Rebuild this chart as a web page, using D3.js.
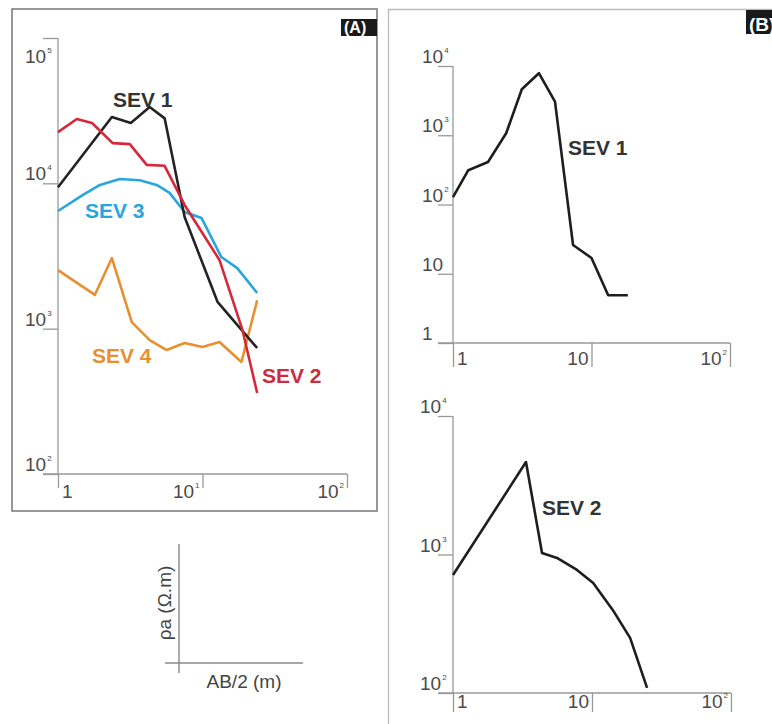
<!DOCTYPE html>
<html>
<head>
<meta charset="utf-8">
<script src="https://cdn.jsdelivr.net/npm/d3@7"></script>
<style>
  body { margin: 0; background: #fff; }
  svg { display: block; font-family: "Liberation Sans", Arial, sans-serif; }
</style>
</head>
<body>
<div id="chart"></div>
<script>
// ---- data (AB/2 in m, apparent resistivity in ohm.m) ----
const sev1A_ab = [1, 2.36, 3.19, 4.31, 5.47, 7.52, 12.7, 23.9];
const sev1A_rho = [9400, 28600, 26000, 33500, 28000, 5870, 1530, 736];

const sev2A_ab = [1, 1.35, 1.72, 2.39, 3.14, 4.11, 5.47, 7.52, 13.1, 18.9, 23.9];
const sev2A_rho = [22500, 27700, 26000, 18900, 18600, 13400, 13200, 7100, 2970, 980, 361];

const sev3A_ab = [1, 1.49, 1.95, 2.68, 3.68, 4.82, 5.92, 7.52, 9.84, 13.5, 17.4, 23.9];
const sev3A_rho = [6450, 8320, 9750, 10700, 10500, 9750, 8590, 6350, 5780, 3110, 2610, 1760];

const sev4A_ab = [1, 1.80, 2.36, 3.24, 4.31, 5.65, 7.52, 10, 13.1, 18.6, 23.9];
const sev4A_rho = [2530, 1710, 3060, 1110, 835, 713, 797, 748, 809, 590, 1570];

const sev1B_ab = [1, 1.29, 1.79, 2.42, 3.14, 4.17, 5.45, 7.36, 10, 13.2, 18.3];
const sev1B_rho = [128, 313, 410, 1070, 4610, 7870, 3050, 26, 16.9, 4.9, 4.9];

const sev2B_ab = [1, 3.35, 4.37, 5.6, 7.8, 10.2, 14.1, 18.8, 24.9];
const sev2B_rho = [711, 4650, 1025, 944, 773, 622, 398, 250, 109];

// tick values and their labels ("base^exp")
const ticksA_x = [1, 10, 100];
const labelsA_x = ["1", "10^1", "10^2"];
const ticksA_y = [100, 1000, 10000, 100000];
const labelsA_y = ["10^2", "10^3", "10^4", "10^5"];
const ticksB1_y = [1, 10, 100, 1000, 10000];
const labelsB1_y = ["1", "10", "10^2", "10^3", "10^4"];
const ticksB_x = [1, 10, 100];
const labelsB_x = ["1", "10", "10^2"];
const ticksB2_y = [100, 1000, 10000];
const labelsB2_y = ["10^2", "10^3", "10^4"];

const W = 772, H = 724;
const svg = d3.select("#chart").append("svg")
    .attr("width", W)
    .attr("height", H);

// panel frames
svg.append("rect")
    .attr("x", 12).attr("y", 9)
    .attr("width", 365).attr("height", 502)
    .style("fill", "none")
    .style("stroke", "#777")
    .style("stroke-width", 1.5);

svg.append("path")
    .attr("d", "M388.5," + H + "V9.5H" + W)
    .style("fill", "none")
    .style("stroke", "#bbb")
    .style("stroke-width", 1.3);

function tag(x, y, w, h, txt, fs) {
    svg.append("rect").attr("x", x).attr("y", y).attr("width", w).attr("height", h)
        .style("fill", "#1a1a1a");
    svg.append("text").attr("x", x + 3).attr("y", y + h - 3)
        .text(txt)
        .style("fill", "#fff").style("font-weight", "bold").style("font-size", fs + "px");
}
tag(341, 19, 36, 17, "(A)", 16);
tag(746, 10, 40, 24, "(B)", 19);

function tickText(sel, lab) {
    const parts = lab.split("^");
    sel.append("tspan").text(parts[0]);
    if (parts[1]) {
        sel.append("tspan").text(parts[1])
            .attr("dx", 1).attr("dy", -10).style("font-size", "8px");
    }
}

function panel(opts) {
    const x = d3.scaleLog().domain([1, 100]).range(opts.xr);
    const y = d3.scaleLog().domain(opts.yd).range(opts.yr);
    const g = svg.append("g");
    const x0 = opts.xr[0], yb = opts.yr[0];

    // axes (tick lines from d3 axes, own extended baselines)
    g.append("g").attr("transform", "translate(" + x0 + ",0)")
        .call(d3.axisLeft(y).tickValues(opts.yt).tickSize(15).tickFormat(""))
        .call(a => a.select(".domain").remove())
        .call(a => a.selectAll("line").style("stroke", "#999").style("stroke-width", 1.3));
    g.append("g").attr("transform", "translate(0," + yb + ")")
        .call(d3.axisBottom(x).tickValues(opts.xt).tickSize(opts.xtick).tickFormat(""))
        .call(a => a.select(".domain").remove())
        .call(a => a.selectAll("line").style("stroke", "#999").style("stroke-width", 1.3));
    g.append("line")
        .attr("x1", x0).attr("x2", x0)
        .attr("y1", opts.yr[1]).attr("y2", yb)
        .style("stroke", "#999").style("stroke-width", 1.3);
    g.append("line")
        .attr("x1", x0 - 15).attr("x2", opts.xr[1])
        .attr("y1", yb).attr("y2", yb)
        .style("stroke", "#999").style("stroke-width", 1.3);

    // tick labels
    opts.yt.forEach((v, i) => {
        const off = (i === opts.yt.length - 1 && opts.topBelow) ? 25 : -3;
        g.append("text")
            .attr("x", opts.ylx).attr("y", y(v) + off)
            .style("font-size", "19px").style("fill", "#4a4a4a")
            .call(tickText, opts.yl[i]);
    });
    opts.xt.forEach((v, i) => {
        const t = g.append("text")
            .attr("y", yb + opts.xly)
            .style("font-size", "19px").style("fill", "#4a4a4a");
        if (i === 0) t.attr("x", x(v) + 4);
        else t.attr("x", x(v) - 3).attr("text-anchor", "end");
        t.call(tickText, opts.xl[i]);
    });

    const line = d3.line().x(d => x(d[0])).y(d => y(d[1]));
    opts.series.forEach(s => {
        g.append("path")
            .datum(d3.zip(s.ab, s.rho))
            .attr("d", line)
            .style("fill", "none")
            .style("stroke", s.color)
            .style("stroke-width", 2.6)
            .style("stroke-linejoin", "round");
        g.append("text")
            .attr("x", s.lx).attr("y", s.ly)
            .text(s.name)
            .style("fill", s.tcolor || s.color)
            .style("font-size", "21px")
            .style("font-weight", "bold");
    });
}

panel({
    xr: [58, 347], yd: [100, 100000], yr: [474, 38],
    xt: ticksA_x, xl: labelsA_x, yt: ticksA_y, yl: labelsA_y,
    ylx: 25, xly: 24, xtick: 14, topBelow: true,
    series: [
        {name: "SEV 4", ab: sev4A_ab, rho: sev4A_rho, color: "#e8902f", lx: 92, ly: 363},
        {name: "SEV 3", ab: sev3A_ab, rho: sev3A_rho, color: "#27a6de", lx: 85, ly: 218},
        {name: "SEV 1", ab: sev1A_ab, rho: sev1A_rho, color: "#232323", tcolor: "#333", lx: 113, ly: 107},
        {name: "SEV 2", ab: sev2A_ab, rho: sev2A_rho, color: "#d5283a", tcolor: "#cc2b40", lx: 262, ly: 383}
    ]
});

panel({
    xr: [453, 730], yd: [1, 10000], yr: [343, 66],
    xt: ticksB_x, xl: labelsB_x, yt: ticksB1_y, yl: labelsB1_y,
    ylx: 422, xly: 22, xtick: 24, topBelow: false,
    series: [
        {name: "SEV 1", ab: sev1B_ab, rho: sev1B_rho, color: "#1e1e1e", tcolor: "#333", lx: 568, ly: 155}
    ]
});

panel({
    xr: [453, 731], yd: [100, 10000], yr: [693, 416],
    xt: ticksB_x, xl: labelsB_x, yt: ticksB2_y, yl: labelsB2_y,
    ylx: 420, xly: 15, xtick: 19, topBelow: false,
    series: [
        {name: "SEV 2", ab: sev2B_ab, rho: sev2B_rho, color: "#1e1e1e", tcolor: "#333", lx: 542, ly: 515}
    ]
});

// axis key
const key = svg.append("g");
key.append("line").attr("x1", 179).attr("x2", 179).attr("y1", 544).attr("y2", 673)
    .style("stroke", "#888").style("stroke-width", 1.4);
key.append("line").attr("x1", 165).attr("x2", 303).attr("y1", 663).attr("y2", 663)
    .style("stroke", "#888").style("stroke-width", 1.4);
key.append("text")
    .attr("transform", "translate(171,603) rotate(-90)")
    .attr("text-anchor", "middle")
    .text("ρa (Ω.m)")
    .style("font-size", "19px").style("fill", "#444");
key.append("text")
    .attr("x", 244).attr("y", 688)
    .attr("text-anchor", "middle")
    .text("AB/2 (m)")
    .style("font-size", "19px").style("fill", "#444");
</script>
</body>
</html>
